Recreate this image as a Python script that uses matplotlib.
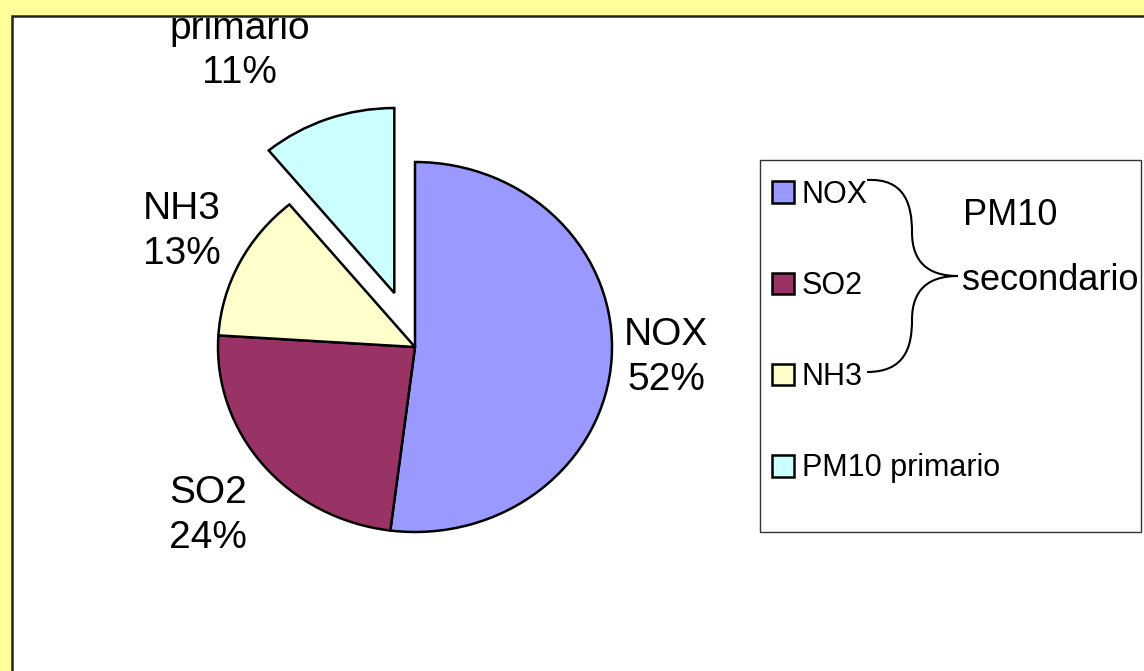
import matplotlib
matplotlib.use('Agg')
import matplotlib.pyplot as plt
import numpy as np
from matplotlib.patches import Rectangle, PathPatch
from matplotlib.path import Path

plt.rcParams['font.family'] = ['Liberation Sans', 'DejaVu Sans']

names = ['NOX', 'SO2', 'NH3', 'PM10 primario']
label_names = ['NOX', 'SO2', 'NH3', 'PM10\nprimario']
values = [52, 24, 13, 11]
colors = ['#9999FF', '#993366', '#FFFFCC', '#CCFFFF']
explode = [0, 0, 0, 0.31]

W, H = 1144, 671


def fx(x):
    return x / W


def fy(y):
    return 1 - y / H


fig = plt.figure(figsize=(W / 100, H / 100), dpi=100, facecolor='#FFFF99')

# white plot area with dark border (runs off right / bottom edges)
bg = Rectangle((fx(12), fy(700)), 1.2, (700 - 16) / H, transform=fig.transFigure,
               facecolor='white', edgecolor='#222222', linewidth=1.8, zorder=-5)
fig.add_artist(bg)

# pie axes (slightly elliptical, like the original)
cx, cy, rx, ry = 415, 347, 197, 185
ax = fig.add_axes([fx(cx - 1.25 * rx), fy(cy + 1.25 * ry), 2.5 * rx / W, 2.5 * ry / H])
ax.set_facecolor('none')
wedges, texts = ax.pie(values, colors=colors, explode=explode, startangle=90,
                       counterclock=False, radius=1,
                       labels=[f'{n}\n{v}%' for n, v in zip(label_names, values)],
                       wedgeprops=dict(edgecolor='black', linewidth=1.8),
                       textprops=dict(fontsize=28))
ax.set_xlim(-1.25, 1.25)
ax.set_ylim(-1.25, 1.25)
ax.set_aspect('auto')
ax.axis('off')

# label placement: distance and small angle shift per label
label_dist = [1.275, 1.39, 1.34, 1.63]
label_shift = [1.0, 1.3, -0.8, 9.0]
for w, t, d, s in zip(wedges, texts, label_dist, label_shift):
    th = np.deg2rad((w.theta1 + w.theta2) / 2 + s)
    x0, y0 = w.center
    t.set_position((x0 + d * np.cos(th), y0 + d * np.sin(th)))
    t.set_ha('center')
    t.set_va('center')
    t.set_linespacing(1.3)
    t.set_clip_on(True)
    t.set_clip_path(bg)

# legend box
box = Rectangle((fx(760), fy(532)), (1141 - 760) / W, (532 - 160) / H,
                transform=fig.transFigure, facecolor='white', edgecolor='#333333',
                linewidth=1.0, zorder=-4)
fig.add_artist(box)
fig.legend(wedges, names, loc='upper left', bbox_to_anchor=(fx(772), fy(180)),
           frameon=False, fontsize=22, handlelength=0.72, handleheight=0.72,
           handletextpad=0.25, labelspacing=2.0, borderpad=0, borderaxespad=0)

# curly brace grouping the secondary precursors
verts = [(867, 180), (905, 178), (912, 205), (912, 232),
         (912, 262), (928, 276), (958, 276),
         (928, 276), (912, 290), (912, 320),
         (912, 347), (905, 372), (867, 372)]
codes = [Path.MOVETO] + [Path.CURVE4] * 12
brace = PathPatch(Path([(fx(x), fy(y)) for x, y in verts], codes),
                  transform=fig.transFigure, facecolor='none', edgecolor='black',
                  linewidth=1.5)
fig.add_artist(brace)
fig.text(fx(1010), fy(225), 'PM10', fontsize=26, ha='center', va='baseline')
fig.text(fx(962), fy(290), 'secondario', fontsize=26, ha='left', va='baseline')

fig.savefig('out.png', dpi=100, facecolor=fig.get_facecolor())
